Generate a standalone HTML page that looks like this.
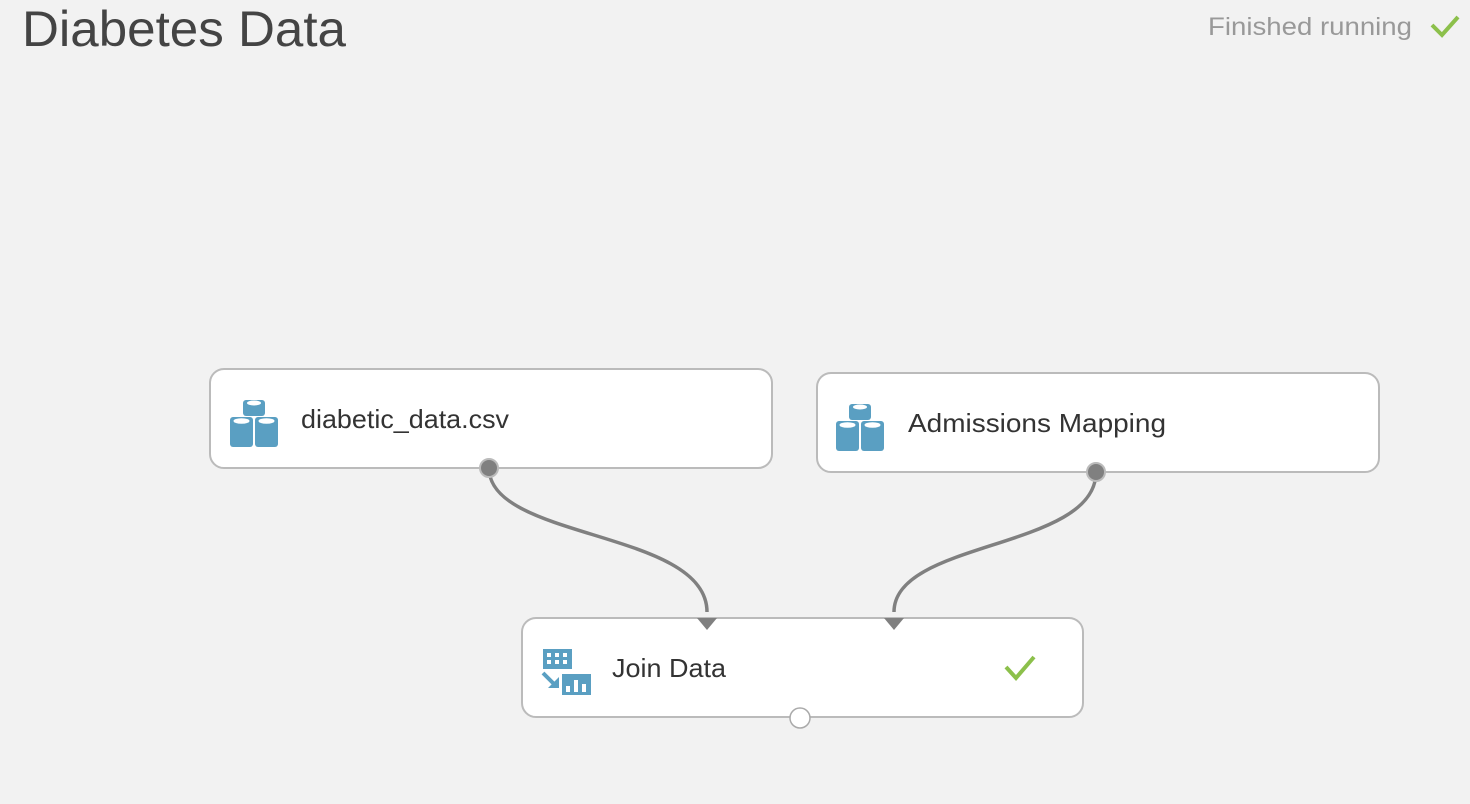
<!DOCTYPE html>
<html><head><meta charset="utf-8"><style>
html,body{margin:0;padding:0;background:#f2f2f2;width:1470px;height:804px;overflow:hidden;font-family:"Liberation Sans",sans-serif}
</style></head><body>
<svg width="1470" height="804" xmlns="http://www.w3.org/2000/svg">
<rect width="1470" height="804" fill="#f2f2f2"/>
<text x="22" y="46" font-family="Liberation Sans, sans-serif" font-size="50" fill="#444" textLength="324" lengthAdjust="spacingAndGlyphs">Diabetes Data</text>
<text x="1208" y="35" font-family="Liberation Sans, sans-serif" font-size="25" fill="#999" textLength="204" lengthAdjust="spacingAndGlyphs">Finished running</text>
<path d="M1432,25 L1442,35 L1458,17" stroke="#8cc04b" stroke-width="4" fill="none"/>
<path d="M489,468 C489,540 707,530 707,612" stroke="#808080" stroke-width="3.5" fill="none"/>
<path d="M1096,472 C1096,550 894,540 894,612" stroke="#808080" stroke-width="3.5" fill="none"/>
<rect x="210" y="369" width="562" height="99" rx="14" fill="#fff" stroke="#bbb" stroke-width="2"/>
<rect x="817" y="373" width="562" height="99" rx="14" fill="#fff" stroke="#bbb" stroke-width="2"/>
<rect x="522" y="618" width="561" height="99" rx="14" fill="#fff" stroke="#bbb" stroke-width="2"/>
<circle cx="489" cy="468" r="9" fill="#808080" stroke="#bbb" stroke-width="2"/>
<circle cx="1096" cy="472" r="9" fill="#808080" stroke="#bbb" stroke-width="2"/>
<circle cx="800" cy="718" r="10" fill="#fff" stroke="#aaa" stroke-width="1.5"/>
<path d="M697,618 L717,618 L707,630 Z" fill="#808080"/>
<path d="M884,618 L904,618 L894,630 Z" fill="#808080"/>
<g fill="#5a9fc2">
  <rect x="243" y="400" width="22" height="16" rx="3"/>
  <rect x="230" y="417" width="23" height="30" rx="3"/>
  <rect x="255" y="417" width="23" height="30" rx="3"/>
 <ellipse cx="254" cy="403" rx="7" ry="2.5" fill="#fff"/>
 <ellipse cx="241.5" cy="421" rx="8" ry="2.8" fill="#fff"/>
 <ellipse cx="266.5" cy="421" rx="8" ry="2.8" fill="#fff"/>
</g>
<g fill="#5a9fc2" transform="translate(606,4)">
  <rect x="243" y="400" width="22" height="16" rx="3"/>
  <rect x="230" y="417" width="23" height="30" rx="3"/>
  <rect x="255" y="417" width="23" height="30" rx="3"/>
 <ellipse cx="254" cy="403" rx="7" ry="2.5" fill="#fff"/>
 <ellipse cx="241.5" cy="421" rx="8" ry="2.8" fill="#fff"/>
 <ellipse cx="266.5" cy="421" rx="8" ry="2.8" fill="#fff"/>
</g>
<g>
 <rect x="543" y="649" width="29" height="20" fill="#5a9fc2"/>
 <g fill="#fff">
  <rect x="547" y="653" width="4" height="4"/><rect x="555" y="653" width="4" height="4"/><rect x="563" y="653" width="4" height="4"/>
  <rect x="547" y="660" width="4" height="4"/><rect x="555" y="660" width="4" height="4"/><rect x="563" y="660" width="4" height="4"/>
 </g>
 <rect x="562" y="674" width="29" height="21" fill="#5a9fc2"/>
 <g fill="#fff"><rect x="566" y="686" width="4" height="6"/><rect x="574" y="680" width="4" height="12"/><rect x="582" y="684" width="4" height="8"/></g>
 <path d="M543,673 L555,685" stroke="#5a9fc2" stroke-width="4"/>
 <path d="M548,688 L559,688 L559,677 Z" fill="#5a9fc2"/>
</g>
<g font-family="Liberation Sans, sans-serif" font-size="26" fill="#333">
 <text x="301" y="428" textLength="208" lengthAdjust="spacingAndGlyphs">diabetic_data.csv</text>
 <text x="908" y="432" textLength="258" lengthAdjust="spacingAndGlyphs">Admissions Mapping</text>
 <text x="612" y="677" textLength="114" lengthAdjust="spacingAndGlyphs">Join Data</text>
</g>
<path d="M1006,667 L1016,678 L1034,657" stroke="#8cc04b" stroke-width="4" fill="none"/>
</svg>
</body></html>
